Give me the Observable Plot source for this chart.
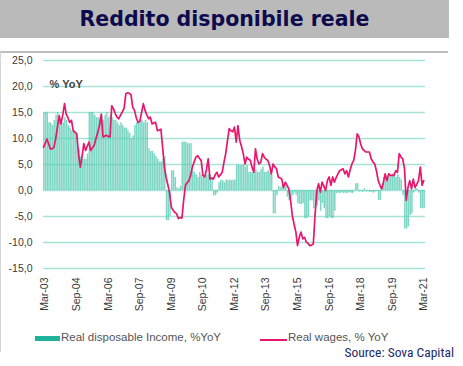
<!DOCTYPE html>
<html><head><meta charset="utf-8">
<script src="https://cdn.jsdelivr.net/npm/d3@7"></script>
<script src="https://cdn.jsdelivr.net/npm/@observablehq/plot@0.6"></script>
<style>
body{margin:0;background:#fff;width:463px;height:366px;overflow:hidden;position:relative;font-family:"Liberation Sans",Arial,sans-serif}
#banner{position:absolute;left:0;top:0;width:449px;height:38px;background:#bababa;color:#0d0b4e;font-family:"DejaVu Sans",sans-serif;font-weight:bold;font-size:20.5px;text-align:center;line-height:39px}
#frame{position:absolute;left:0;top:51px;width:447px;height:299px;border-top:2px solid #bdbdbd;border-left:1px solid #d6d6d6}
#chart{position:absolute;left:0;top:0}
.leg{position:absolute;top:331px;font-size:11.5px;color:#555;white-space:nowrap}
.sw1{position:absolute;left:35px;top:336px;width:25px;height:5px;background:#1fb39b}
.sw2{position:absolute;left:260px;top:339px;width:27px;height:2px;background:#e8176d}
#source{position:absolute;right:9px;top:344px;font-family:"Liberation Sans Narrow","Roboto Condensed",Arial,sans-serif;font-stretch:condensed;font-size:13.5px;color:#1b2a6b}
</style></head>
<body>
<div id="frame"></div>
<div id="chart"></div>
<div id="banner">Reddito disponibile reale</div>
<div class="sw1"></div><div class="leg" style="left:61px">Real disposable Income, %YoY</div>
<div class="sw2"></div><div class="leg" style="left:288px">Real wages, % YoY</div>
<div id="source">Source: Sova Capital</div>
<script>
// Real disposable income, %YoY, monthly from Feb-03
const incomeStart = "2003-02-01";
const incomeValues = [
  15,
  15, 15, 13, 13, 12.5, 13.5, 14.5, 15, 14, 13,
  13, 14, 13.5, 12.5, 12, 11.5, 11.5, 11, 10.5, 8, 6.5, 6,
  6, 6, 7, 15, 15, 15, 14.5, 14, 14, 14, 14.5, 13.5,
  14.5, 15, 14, 14.5, 14, 13.5, 13.5, 13, 12.5, 13, 12.5, 12,
  12, 11.5, 11, 10, 10.5, 12.5, 13, 13, 13.5, 13.5, 13, 13.5,
  13, 8, 7.5, 7.5, 7, 6.5, 6, 5.5, 5.5, 6, 6.5, -5.8,
  -5.8, -5, 3.8, 3.8, 2.5, 0.5, 0.3, 0.8, 9.3, 9.3, 9.3, 9,
  9, 9, 3.8, 3.5, 3, 2.5, 3.5, 3, 2.5, 3, 3, 3,
  3, 2.5, -1, -1, -0.5, 1.5, 1.9, 1.9, 1.5, 2, 1.9, 2,
  1.9, 2, 2, 4.8, 5, 4.8, 4.8, 5, 4.5, 4.8, 3.5, 3.5,
  3.5, 3.8, 4, 3.5, 3.5, 4, 4.5, 3.5, 3.5, 3.8, 3.5, 3,
  -4.5, -4.5, -1, 0.8, 0.5, 1, 0.5, 0.8, -1.3, -2, -1.5, -1,
  -0.5, -1, -2.5, -2.7, -2.7, -2.5, -5.4, -5.4, -5, -2, -2, -3.5,
  -3.5, -3, -2, -4, -2.5, -3.5, -5.4, -5.4, -5, -5.4, -5.4, -4,
  -0.6, -0.5, -0.6, -0.4, -0.6, -0.5, -0.6, -0.4, -0.5, -0.6, -0.3, 1.3,
  1.3, -0.3, -0.2, -0.4, 0.3, -0.3, -0.2, -0.4, -0.3, -0.5, -0.3, -0.2,
  -1.9, -1.9, 0.5, 2.5, 3, 2.5, 3.2, 2.8, 3.2, 3, 2.5, 3,
  2.5, 2, -1, -7.4, -7.4, -7, -4.8, -4.5, -0.5, 0.5, 0.3, -0.5,
  -3.5, -3.5, -3.5
];
// Real wages, %YoY, monthly from Feb-03
const wageStart = "2003-02-01";
const wageValues = [
  8.3,
  9.0, 9.9, 9.0, 8.0, 8.0, 8.3, 10.0, 12.2, 14.4, 12.8,
  14.5, 16.7, 14.7, 14.0, 13.1, 13.5, 11.5, 11.2, 10.9, 7.1, 4.5, 6.4,
  9.0, 7.7, 8.5, 9.3, 7.7, 8.2, 8.7, 10.0, 11.2, 12.5, 14.7, 10.3,
  10.5, 10.6, 10.4, 10.3, 16.3, 15.7, 14.8, 14.1, 13.8, 14.5, 15.1, 15.8,
  18.6, 18.8, 18.7, 18.4, 16.0, 15.4, 14.0, 13.1, 13.3, 15.0, 16.7, 15.4,
  14.5, 13.8, 14.1, 12.8, 13.0, 13.1, 11.5, 11.6, 11.8, 8.3, 4.5, 2.5,
  1.0, -0.6, -3.2, -3.8, -4.2, -4.5, -5.4, -5.2, -5.3, -1.9, 1.0, 1.5,
  1.9, 3.0, 4.5, 5.5, 6.4, 6.7, 6.2, 5.8, 2.9, 2.6, 4.0, 6.1,
  2.2, 2.4, 2.2, 3.0, 3.5, 2.6, 3.0, 3.5, 5.4, 7.1, 9.6, 11.9,
  11.5, 11.3, 12.2, 9.3, 12.5, 9.6, 8.5, 7.1, 5.1, 6.4, 6.0, 5.8,
  4.5, 3.5, 8.0, 6.0, 5.1, 5.4, 7.1, 6.4, 6.0, 5.8, 4.8, 3.2,
  5.1, 4.5, 4.2, 2.6, 2.4, 2.2, 0.6, 1.6, 1.0, 0.3, -1.9, -4.8,
  -6.5, -8.0, -10.6, -9.0, -8.0, -9.3, -9.0, -9.9, -10.2, -10.6, -10.5, -10.3,
  -4.5, 0.0, 1.3, -0.3, 1.6, 0.8, 0.0, 1.9, 2.6, 1.0, 2.6, 1.6,
  2.5, 3.2, 3.8, 4.0, 4.2, 3.2, 3.8, 2.6, 4.0, 5.1, 5.8, 7.7,
  10.9, 10.3, 9.0, 8.0, 7.7, 7.4, 7.4, 7.4, 6.1, 5.5, 5.1, 3.8,
  1.9, 1.0, 0.3, 1.6, 3.2, 1.9, 3.2, 2.9, 2.9, 2.9, 3.8, 3.5,
  7.1, 6.4, 6.1, 4.2, -1.9, 0.6, 1.9, 0.3, 2.2, 0.6, 1.2, 1.9,
  4.5, 1.0, 1.9
];
const xTickLabels = ["2003-03","2004-09","2006-03","2007-09","2009-03","2010-09","2012-03","2013-09","2015-03","2016-09","2018-03","2019-09","2021-03"];
const yTicks = [-15, -10, -5, 0, 5, 10, 15, 20, 25];

const toSeries = (start, vals) => vals.map((v, i) => ({date: d3.utcMonth.offset(new Date(start), i), value: v}));
const income = toSeries(incomeStart, incomeValues);
const wages = toSeries(wageStart, wageValues);
const xTicks = xTickLabels.map(s => new Date(s + "-01"));

const chart = Plot.plot({
  width: 463, height: 366,
  marginLeft: 43, marginRight: 38, marginTop: 60, marginBottom: 98,
  style: {background: "transparent", fontFamily: "Liberation Sans, Arial, sans-serif", fontSize: "10.5px", color: "#3a3a3a"},
  x: {type: "utc", domain: [new Date("2003-02-01"), new Date("2021-04-01")], ticks: xTicks,
      tickFormat: d3.utcFormat("%b-%y"), tickRotate: -90, tickSize: 0, tickPadding: 9, label: null},
  y: {domain: [-15, 25], ticks: yTicks, tickFormat: d => d.toFixed(1).replace(".", ","), tickSize: 0, tickPadding: 11, label: null},
  marks: [
    Plot.ruleY(yTicks, {stroke: "#a6e4d6", strokeWidth: 1.5}),
    Plot.rectY(income, {x: "date", interval: "month", y: "value", fill: "#5ccdb5", fillOpacity: 0.8, insetLeft: 0.12, insetRight: 0.12}),
    Plot.line(wages, {x: "date", y: "value", stroke: "#e8176d", strokeWidth: 1.7}),
    Plot.text(["% YoY"], {frameAnchor: "top-left", dx: 6, dy: 20, fill: "#444", fontSize: 11, fontWeight: "bold", textAnchor: "start"})
  ]
});
document.getElementById("chart").appendChild(chart);
</script>
</body></html>
